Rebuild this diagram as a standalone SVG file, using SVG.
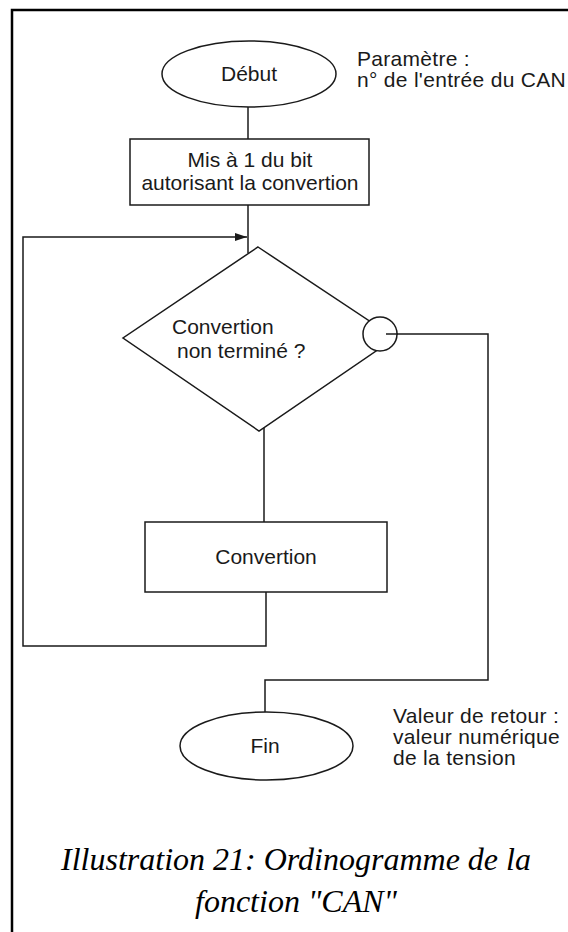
<svg xmlns="http://www.w3.org/2000/svg" width="568" height="932" viewBox="0 0 568 932">
  <style>
    .shape { fill: #ffffff; stroke: #1a1a1a; stroke-width: 1.5; }
    .wire { fill: none; stroke: #1a1a1a; stroke-width: 1.5; }
    .lbl { font-family: "Liberation Sans", Arial, sans-serif; font-size: 21px; fill: #1a1a1a; }
    .note { font-family: "Liberation Sans", Arial, sans-serif; font-size: 21px; letter-spacing: 0.3px; fill: #1a1a1a; }
    .mid { text-anchor: middle; }
    .caption { font-family: "Liberation Serif", "Times New Roman", serif; font-style: italic; font-size: 32px; fill: #000000; text-anchor: middle; }
  </style>
  <defs>
    <marker id="arrow" viewBox="0 0 12 8" refX="12" refY="4" markerWidth="12" markerHeight="8" markerUnits="userSpaceOnUse" orient="auto">
      <path d="M0,0 L12,4 L0,8 Z" fill="#1a1a1a"/>
    </marker>
  </defs>

  <rect width="568" height="932" fill="#ffffff"/>

  <!-- page frame (only left and top edges fall inside the view) -->
  <path d="M12,940 L12,10 L575,10" fill="none" stroke="#000000" stroke-width="2.5"/>

  <g id="connectors">
    <line class="wire" x1="248" y1="107" x2="248" y2="139"/>
    <line class="wire" x1="248" y1="205" x2="248" y2="253"/>
    <!-- loop back into the test -->
    <path class="wire" d="M266,592 L266,646 L23,646 L23,237 L247,237" marker-end="url(#arrow)"/>
    <line class="wire" x1="264" y1="422" x2="264" y2="522"/>
    <!-- exit branch to the end -->
    <path class="wire" d="M386,334 L488,334 L488,680 L265,680 L265,712"/>
  </g>

  <g id="debut">
    <ellipse class="shape" cx="249" cy="74" rx="87" ry="33"/>
    <text class="lbl mid" x="249" y="81">Début</text>
  </g>

  <g id="param-note">
    <text class="note" x="357" y="66">Paramètre :</text>
    <text class="note" x="357" y="87">n° de l'entrée du CAN</text>
  </g>

  <g id="enable-bit">
    <rect class="shape" x="130" y="139" width="239" height="66"/>
    <text class="lbl mid" x="250" y="167">Mis à 1 du bit</text>
    <text class="lbl mid" x="250" y="190">autorisant la convertion</text>
  </g>

  <g id="test">
    <polygon class="shape" points="258,247 395,338 259,431 123,338"/>
    <text class="lbl" x="172" y="334">Convertion</text>
    <text class="lbl" x="177" y="358">non terminé ?</text>
    <circle class="shape" cx="380" cy="334" r="17"/>
    <line class="wire" x1="386" y1="334" x2="398" y2="334"/>
  </g>

  <g id="conversion">
    <rect class="shape" x="145" y="522" width="242" height="70"/>
    <text class="lbl mid" x="266" y="564">Convertion</text>
  </g>

  <g id="fin">
    <ellipse class="shape" cx="266.5" cy="746" rx="86.5" ry="34"/>
    <text class="lbl mid" x="265" y="753">Fin</text>
  </g>

  <g id="return-note">
    <text class="note" x="393" y="723">Valeur de retour :</text>
    <text class="note" x="393" y="744">valeur numérique</text>
    <text class="note" x="393" y="765">de la tension</text>
  </g>

  <g id="caption">
    <text class="caption" x="296" y="870">Illustration 21: Ordinogramme de la</text>
    <text class="caption" x="296" y="912">fonction "CAN"</text>
  </g>
</svg>
